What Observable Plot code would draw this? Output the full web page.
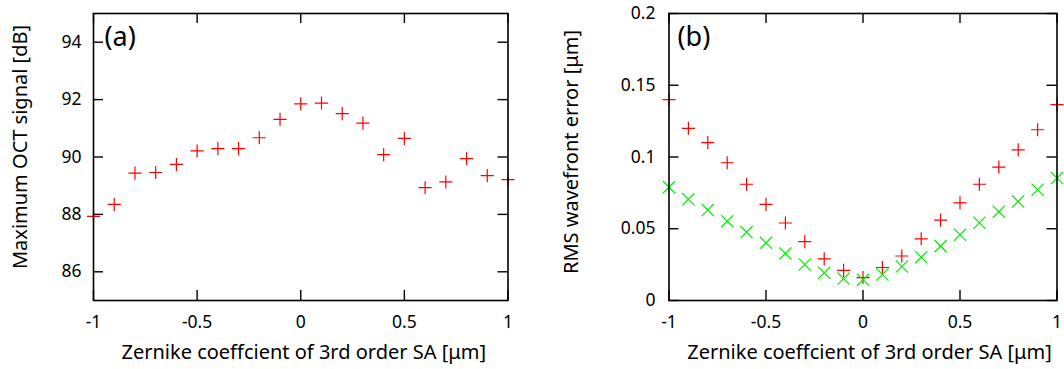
<!DOCTYPE html>
<html><head><meta charset="utf-8">
<script src="https://cdn.jsdelivr.net/npm/d3@7"></script>
<script src="https://cdn.jsdelivr.net/npm/@observablehq/plot@0.6"></script>
<style>
body{margin:0;background:#fff;}
#wrap{position:relative;width:1064px;height:369px;overflow:hidden;}
#wrap svg{position:absolute;top:0;overflow:visible;}
</style></head><body><div id="wrap"></div>
<script>
// Zernike coefficient of 3rd order SA [µm]
const coeff = [-1, -0.9, -0.8, -0.7, -0.6, -0.5, -0.4, -0.3, -0.2, -0.1, 0, 0.1, 0.2, 0.3, 0.4, 0.5, 0.6, 0.7, 0.8, 0.9, 1];
// (a) Maximum OCT signal [dB]
const octSignal = [87.93, 88.35, 89.44, 89.46, 89.74, 90.21, 90.29, 90.29, 90.67, 91.31, 91.85, 91.88, 91.51, 91.18, 90.08, 90.65, 88.93, 89.13, 89.94, 89.35, 89.21];
// (b) RMS wavefront error [µm], red "+" series
const rmsPlus = [0.140, 0.120, 0.110, 0.096, 0.081, 0.067, 0.054, 0.041, 0.029, 0.021, 0.016, 0.023, 0.031, 0.043, 0.056, 0.068, 0.081, 0.093, 0.105, 0.119, 0.1365];
// (b) RMS wavefront error [µm], green "x" series
const rmsTimes = [0.079, 0.0705, 0.063, 0.0553, 0.0477, 0.0402, 0.0328, 0.0251, 0.0193, 0.0153, 0.0144, 0.0181, 0.0237, 0.0302, 0.0379, 0.0458, 0.0542, 0.0619, 0.069, 0.0772, 0.0853];

const xTicks = [-1, -0.5, 0, 0.5, 1];
const octTicks = [86, 88, 90, 92, 94];
const rmsTicks = [0, 0.05, 0.1, 0.15, 0.2];
const xLabel = "Zernike coeffcient of 3rd order SA [μm]";
const octLabel = "Maximum OCT signal [dB]";
const rmsLabel = "RMS wavefront error [μm]";

const FONT = "'Noto Sans', sans-serif";
const W = 532, H = 369, MT = 13, MB = 69;
const FH = H - MT - MB;
const fmt = d => String(d);

function panel({ml, mr, yDomain, yTicks, ylabel, tag, series, yPad, yLabelDx, yLabelDy, xLabelDx, tagDx}) {
  const FW = W - ml - mr;
  const marks = [
    Plot.tickX(xTicks, {x: d => d, insetTop: FH - 10, stroke: "black", strokeWidth: 1.4}),
    Plot.tickX(xTicks, {x: d => d, insetBottom: FH - 10, stroke: "black", strokeWidth: 1.4}),
    Plot.tickY(yTicks, {y: d => d, insetRight: FW - 10, stroke: "black", strokeWidth: 1.4}),
    Plot.tickY(yTicks, {y: d => d, insetLeft: FW - 10, stroke: "black", strokeWidth: 1.4}),
    Plot.axisX({ticks: xTicks, tickSize: 0, tickPadding: 15, tickFormat: fmt, fontSize: 17.5, label: null}),
    Plot.axisY({ticks: yTicks, tickSize: 0, tickPadding: yPad, tickFormat: fmt, fontSize: 17.5, label: null}),
    Plot.text([xLabel], {text: d => d, frameAnchor: "bottom", dx: xLabelDx, dy: 52, textAnchor: "middle", lineAnchor: "middle", fontSize: 20}),
    Plot.text([ylabel], {text: d => d, frameAnchor: "left", rotate: -90, dx: yLabelDx, dy: yLabelDy, textAnchor: "middle", lineAnchor: "middle", fontSize: 20}),
    Plot.text([tag], {text: d => d, frameAnchor: "top-left", dx: tagDx, dy: 23.5, textAnchor: "start", lineAnchor: "middle", fontSize: 27})
  ];
  for (const s of series) {
    const data = coeff.map((x, i) => ({x, y: s.values[i]}));
    marks.push(Plot.dot(data, {x: "x", y: "y", symbol: s.symbol, r: s.r, stroke: s.color, strokeWidth: 1.2}));
  }
  marks.push(Plot.frame({stroke: "black", strokeWidth: 1.6}));
  return Plot.plot({
    width: W, height: H,
    marginLeft: ml, marginRight: mr, marginTop: MT, marginBottom: MB,
    x: {domain: [-1, 1]},
    y: {domain: yDomain},
    style: {fontFamily: FONT, fontSize: "17.5px", color: "black", background: "transparent", overflow: "visible"},
    marks
  });
}

const a = panel({
  ml: 93, mr: 24.5, yDomain: [85, 95], yTicks: octTicks, ylabel: octLabel, tag: "(a)",
  series: [{values: octSignal, symbol: "plus", r: 4.3, color: "#ff0000"}],
  yPad: 12, yLabelDx: -72.5, yLabelDy: -10, xLabelDx: 3, tagDx: 11
});
const b = panel({
  ml: 136.5, mr: 7.5, yDomain: [0, 0.2], yTicks: rmsTicks, ylabel: rmsLabel, tag: "(b)",
  series: [
    {values: rmsPlus, symbol: "plus", r: 4.3, color: "#ff0000"},
    {values: rmsTimes, symbol: "times", r: 5.6, color: "#00ee00"}
  ],
  yPad: 13.5, yLabelDx: -97.5, yLabelDy: -5, xLabelDx: 6.5, tagDx: 8.5
});
a.style.left = "0px";
b.style.left = W + "px";
const wrap = document.getElementById("wrap");
wrap.append(a, b);
</script>
</body></html>
